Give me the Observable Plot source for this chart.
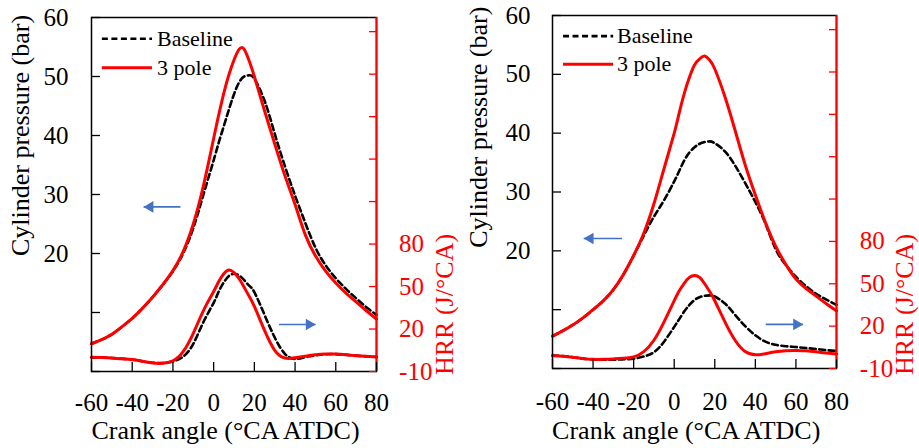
<!DOCTYPE html>
<html>
<head>
<meta charset="utf-8">
<script src="https://cdn.jsdelivr.net/npm/d3@7"></script>
<script src="https://cdn.jsdelivr.net/npm/@observablehq/plot@0.6"></script>
<style>
  html, body { margin: 0; padding: 0; background: #fff; }
  #wrap { display: flex; width: 919px; height: 448px; overflow: hidden; }
  #wrap svg { display: block; flex: none; }
</style>
</head>
<body>
<div id="wrap"></div>
<script>
// ---------------- DATA ----------------
const angles = [-60,-55,-50,-45,-40,-35,-30,-25,-20,-15,-10,-5,0,2.5,5,7.5,10,12.5,15,17.5,20,25,30,35,40,45,50,55,60,65,70,75,80];
const xTicks = [-60,-40,-20,0,20,40,60,80];
const pressureTicks = [0,10,20,30,40,50,60];
const pressureTickLabels = [20,30,40,50,60];
const hrrTicks = [-10,20,50,80,110,140,170,200,230];
const hrrTickLabels = [-10,20,50,80];
const pressureDomain = [0,60];
const hrrDomain = [-10,240];
const xDomain = [-60,80];
const seriesNames = ["Baseline","3 pole"];
const xTitle = "Crank angle (°CA ATDC)";
const pressureTitle = "Cylinder pressure (bar)";
const hrrTitle = "HRR (J/°CA)";

// Left panel (bar / J/°CA)
const leftPressureBaseline = [4.7,5.4,6.3,7.6,9.0,10.7,12.6,14.7,17.0,20.0,24.3,30.0,35.8,38.8,41.6,44.4,47.0,49.0,50.0,50.2,49.6,45.9,40.3,34.8,29.8,25.2,21.0,18.0,15.8,14.0,12.4,10.9,9.6];
const leftPressure3pole    = [4.7,5.4,6.3,7.6,9.0,10.7,12.6,14.7,17.1,20.3,25.0,31.5,39.5,43.5,47.2,50.3,52.8,54.6,54.6,52.6,50.0,44.2,38.6,33.2,28.3,23.2,19.6,17.0,15.0,13.3,11.8,10.3,8.9];
const leftHrrBaseline      = [0.0,-0.2,-0.5,-1.0,-1.6,-2.8,-3.8,-4.0,-2.8,0.5,9.5,25.0,38.5,46.5,53.0,57.5,59.0,57.8,54.5,50.5,46.0,30.0,14.0,2.5,-1.2,0.2,1.4,2.2,2.3,1.8,1.2,0.7,0.3];
const leftHrr3pole         = [0.0,-0.2,-0.5,-1.0,-1.5,-2.8,-4.0,-4.2,-2.5,4.0,17.0,33.0,46.5,53.5,59.0,61.6,59.8,55.5,49.5,43.0,36.0,19.0,5.0,-0.5,-0.3,0.8,1.8,2.4,2.3,1.8,1.2,0.7,0.3];

// Right panel
const rightPressureBaseline = [5.5,6.4,7.4,8.6,10.0,11.5,13.4,16.0,19.2,22.6,25.8,28.6,31.8,33.6,35.4,36.7,37.6,38.2,38.5,38.6,38.3,36.9,34.5,31.5,28.3,24.6,20.3,17.6,15.6,14.0,12.7,11.7,10.8];
const rightPressure3pole    = [5.5,6.4,7.4,8.6,10.0,11.5,13.4,16.0,19.2,23.0,28.0,34.0,40.0,43.5,46.8,49.5,51.6,52.6,53.1,52.4,50.9,46.2,40.5,34.6,29.5,24.8,20.8,17.7,15.2,13.6,12.3,11.0,9.8];
const rightHrrBaseline      = [-0.8,-1.2,-2.0,-3.0,-3.6,-3.8,-3.8,-3.5,-3.0,-1.5,1.5,9.0,19.5,25.0,30.5,35.0,38.5,40.5,41.5,41.8,41.0,36.0,28.0,20.0,13.5,9.0,6.8,5.8,5.2,4.5,3.8,3.0,2.4];
const rightHrr3pole         = [-1.0,-1.3,-2.0,-3.0,-3.5,-3.5,-3.2,-2.8,-1.8,2.0,10.0,23.0,38.0,45.0,50.5,54.5,55.9,54.5,50.0,44.5,38.0,23.0,10.0,2.0,-0.3,0.5,1.8,2.6,2.8,2.5,1.8,1.0,0.3];

// Annotations (in data units: crank angle, pressure axis)
const leftArrowPressure = [{x1: -16.3, x2: -34.4, y: 27.9}];
const leftArrowHrr      = [{x1: 32.1, x2: 50.1, y: 7.96}];
const rightArrowPressure = [{x1: -25.7, x2: -44.6, y: 22.1}];
const rightArrowHrr      = [{x1: 45.1, x2: 63.5, y: 7.5}];
const leftLegend  = {x1: -54.9, x2: -30.3, xText: -27.8, y: [56.4, 51.5]};
const rightLegend = {x1: -54.8, x2: -30.1, xText: -28.2, y: [56.5, 51.7]};

// ---------------- STYLE ----------------
const RED = "#ff0000";
const BLUE = "#4472c4";
const FONT = "'Liberation Serif', 'Times New Roman', serif";
const CURVE = "natural";

const toP = h => (h - hrrDomain[0]) / (hrrDomain[1] - hrrDomain[0]) * (pressureDomain[1] - pressureDomain[0]) + pressureDomain[0];
const rows = arr => angles.map((a, i) => ({angle: a, value: arr[i]}));
const rowsH = arr => angles.map((a, i) => ({angle: a, value: toP(arr[i])}));

function panel(cfg) {
  const fw = cfg.width - cfg.marginLeft - cfg.marginRight;
  const fh = cfg.height - cfg.marginTop - cfg.marginBottom;
  const lg = cfg.legend;
  const legendRows = seriesNames.map((n, i) => ({name: n, y: lg.y[i], x1: lg.x1, x2: lg.x2, xt: lg.xText}));
  return Plot.plot({
    width: cfg.width,
    height: cfg.height,
    marginLeft: cfg.marginLeft,
    marginRight: cfg.marginRight,
    marginTop: cfg.marginTop,
    marginBottom: cfg.marginBottom,
    style: {fontFamily: FONT, fontSize: "25px", background: "white", overflow: "visible", color: "black"},
    x: {domain: xDomain, axis: null},
    y: {domain: pressureDomain, axis: null},
    marks: [
      // curves
      Plot.line(rows(cfg.pBase), {x: "angle", y: "value", stroke: "black", strokeWidth: 2.6, strokeDasharray: "6,3.5", curve: CURVE}),
      Plot.line(rows(cfg.p3), {x: "angle", y: "value", stroke: RED, strokeWidth: 3, curve: CURVE}),
      Plot.line(rowsH(cfg.hBase), {x: "angle", y: "value", stroke: "black", strokeWidth: 2.6, strokeDasharray: "6,3.5", curve: CURVE}),
      Plot.line(rowsH(cfg.h3), {x: "angle", y: "value", stroke: RED, strokeWidth: 3, curve: CURVE}),
      // frame
      Plot.frame({stroke: "black", strokeWidth: 1.5}),
      Plot.ruleX([xDomain[1]], {stroke: RED, strokeWidth: 2}),
      // inward ticks
      Plot.tickX(xTicks, {x: d => d, insetTop: fh - 9, stroke: "black", strokeWidth: 1.3}),
      Plot.tickY(pressureTicks, {y: d => d, insetRight: fw - 9, stroke: "black", strokeWidth: 1.3}),
      Plot.tickY(hrrTicks.map(toP), {y: d => d, insetLeft: fw - 7, stroke: RED, strokeWidth: 1.3}),
      // tick labels
      Plot.text(xTicks, {x: d => d, text: d => String(d), frameAnchor: "bottom", lineAnchor: "top", dy: cfg.xLabelDy, fontSize: 25, fill: "black"}),
      Plot.text(pressureTickLabels, {y: d => d, text: d => String(d), frameAnchor: "left", textAnchor: "end", dx: cfg.yLabelDx, fontSize: 25, fill: "black"}),
      Plot.text(hrrTickLabels, {y: d => toP(d), text: d => String(d), frameAnchor: "right", textAnchor: "start", dx: cfg.hLabelDx, fontSize: 25, fill: RED}),
      // axis titles
      Plot.text([xTitle], {text: d => d, frameAnchor: "bottom", lineAnchor: "middle", dx: cfg.xTitleDx, dy: cfg.xTitleDy, fontSize: 26, fill: "black"}),
      Plot.text([pressureTitle], {text: d => d, frameAnchor: "top-left", rotate: -90, textAnchor: "middle", lineAnchor: "middle", dx: cfg.pTitleDx, dy: cfg.pTitleDy, fontSize: 26, fill: "black"}),
      Plot.text([hrrTitle], {text: d => d, frameAnchor: "bottom-right", rotate: -90, textAnchor: "middle", lineAnchor: "middle", dx: cfg.hTitleDx, dy: cfg.hTitleDy, fontSize: 26, fill: RED}),
      // arrows
      Plot.link(cfg.arrowP, {x1: "x1", x2: "x2", y1: "y", y2: "y", stroke: BLUE, strokeWidth: 1.6}),
      Plot.dot(cfg.arrowP, {x: "x2", y: "y", symbol: "triangle", rotate: -90, r: 4.3, fill: BLUE, stroke: "none", dx: 6.5}),
      Plot.link(cfg.arrowH, {x1: "x1", x2: "x2", y1: "y", y2: "y", stroke: BLUE, strokeWidth: 1.6}),
      Plot.dot(cfg.arrowH, {x: "x2", y: "y", symbol: "triangle", rotate: 90, r: 4.3, fill: BLUE, stroke: "none", dx: -6.5}),
      // legend
      Plot.link(legendRows.slice(0, 1), {x1: "x1", x2: "x2", y1: "y", y2: "y", stroke: "black", strokeWidth: 2.6, strokeDasharray: "6,3.5"}),
      Plot.link(legendRows.slice(1, 2), {x1: "x1", x2: "x2", y1: "y", y2: "y", stroke: RED, strokeWidth: 3}),
      Plot.text(legendRows, {x: "xt", y: "y", text: "name", textAnchor: "start", lineAnchor: "middle", fontSize: 22, fill: "black"})
    ]
  });
}

const wrap = document.getElementById("wrap");
wrap.appendChild(panel({
  width: 459, height: 448, marginLeft: 91, marginRight: 83, marginTop: 17, marginBottom: 77,
  pBase: leftPressureBaseline, p3: leftPressure3pole, hBase: leftHrrBaseline, h3: leftHrr3pole,
  arrowP: leftArrowPressure, arrowH: leftArrowHrr, legend: leftLegend,
  xLabelDy: 22, yLabelDx: -23, hLabelDx: 22.6,
  xTitleDx: -8.5, xTitleDy: 59, pTitleDx: -70.7, pTitleDy: 118, hTitleDx: 68.5, hTitleDy: -67
}));
wrap.appendChild(panel({
  width: 460, height: 448, marginLeft: 93, marginRight: 83, marginTop: 15, marginBottom: 80,
  pBase: rightPressureBaseline, p3: rightPressure3pole, hBase: rightHrrBaseline, h3: rightHrr3pole,
  arrowP: rightArrowPressure, arrowH: rightArrowHrr, legend: rightLegend,
  xLabelDy: 24, yLabelDx: -22, hLabelDx: 23.3,
  xTitleDx: -8.3, xTitleDy: 62, pTitleDx: -73.5, pTitleDy: 111.7, hTitleDx: 68.3, hTitleDy: -64
}));
</script>
</body>
</html>
